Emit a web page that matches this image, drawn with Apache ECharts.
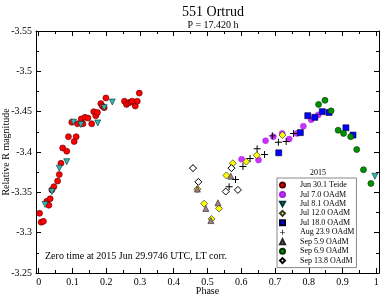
<!DOCTYPE html>
<html><head><meta charset="utf-8">
<script src="https://cdn.jsdelivr.net/npm/echarts@6/dist/echarts.min.js"></script>
<style>html,body{margin:0;padding:0;background:#fff}#c{width:382px;height:294px}</style>
</head><body><div id="c"></div>
<script>
var xMajor = [0,0.1,0.2,0.3,0.4,0.5,0.6,0.7,0.8,0.9,1];
var xMinor = [0.05,0.15,0.25,0.35,0.45,0.55,0.65,0.75,0.85,0.95];
var seriesNames = ['Jun 30.1 Teide','Jul 7.0 OAdM','Jul 8.1 OAdM','Jul 12.0 OAdM','Jul 18.0 OAdM','Aug 23.9 OAdM','Sep 5.9 OAdM','Sep 6.9 OAdM','Sep 13.8 OAdM'];
var jun30 = [[0.0025,-3.324],[0.0074,-3.313],[0.014,-3.314],[0.024,-3.339],[0.030,-3.334],[0.034,-3.342],[0.039,-3.353],[0.045,-3.357],[0.056,-3.364],[0.061,-3.372],[0.066,-3.386],[0.071,-3.405],[0.083,-3.401],[0.088,-3.419],[0.098,-3.437],[0.105,-3.413],[0.111,-3.419],[0.115,-3.435],[0.126,-3.441],[0.131,-3.435],[0.137,-3.443],[0.146,-3.442],[0.157,-3.435],[0.163,-3.450],[0.169,-3.445],[0.174,-3.449],[0.184,-3.460],[0.188,-3.457],[0.194,-3.455],[0.199,-3.467],[0.254,-3.463],[0.260,-3.459],[0.267,-3.461],[0.273,-3.462],[0.277,-3.463],[0.286,-3.457],[0.292,-3.463],[0.298,-3.473]];
var jul7 = [[0.601,-3.391],[0.651,-3.390],[0.672,-3.414],[0.695,-3.419],[0.721,-3.423],[0.742,-3.416],[0.765,-3.423],[0.784,-3.432],[0.807,-3.440],[0.828,-3.446]];
var jul8 = [[0.019,-3.335],[0.039,-3.351],[0.061,-3.380],[0.083,-3.388],[0.103,-3.437],[0.125,-3.434],[0.175,-3.436],[0.194,-3.455],[0.218,-3.462],[0.996,-3.370]];
var jul12 = [[0.470,-3.354],[0.490,-3.336],[0.512,-3.317],[0.534,-3.330],[0.556,-3.371],[0.575,-3.386],[0.615,-3.388],[0.646,-3.396],[0.722,-3.421]];
var jul18 = [[0.711,-3.399],[0.775,-3.424],[0.797,-3.445],[0.818,-3.443],[0.840,-3.450],[0.860,-3.449],[0.910,-3.430],[0.931,-3.421]];
var aug23 = [[0.457,-3.380],[0.564,-3.357],[0.583,-3.366],[0.605,-3.382],[0.626,-3.392],[0.647,-3.404],[0.669,-3.397],[0.692,-3.420],[0.710,-3.412],[0.733,-3.413],[0.755,-3.423]];
var sep5 = [[0.470,-3.354],[0.495,-3.330],[0.510,-3.315],[0.531,-3.337],[0.569,-3.370]];
var sep6 = [[0.829,-3.459],[0.848,-3.464],[0.866,-3.451],[0.887,-3.427],[0.903,-3.423],[0.924,-3.419],[0.942,-3.403],[0.962,-3.378],[0.984,-3.361]];
var sep13 = [[0.457,-3.380],[0.473,-3.363],[0.554,-3.351],[0.571,-3.380],[0.590,-3.353]];

var F = 'Liberation Serif';
var XMIN = -0.008, XMAX = 1.008;
function xAx(pos, labels, ticks, len, line) {
  return {type:'value', position:pos, min:XMIN, max:XMAX,
    axisLine:{show:line, onZero:false, lineStyle:{color:'#000', width:1}},
    axisTick:{show:true, inside:true, length:len, customValues:ticks, lineStyle:{color:'#000'}},
    axisLabel:{show:labels, customValues:ticks, margin:4, color:'#000', fontFamily:F, fontSize:10,
      formatter:function(v){return String(+v.toFixed(2));}},
    splitLine:{show:false}};
}
function yAx(pos, labels) {
  return {type:'value', position:pos, min:-3.55, max:-3.25, interval:0.05, inverse:true,
    axisLine:{show:true, onZero:false, lineStyle:{color:'#000', width:1}},
    axisTick:{show:true, inside:true, length:5, lineStyle:{color:'#000'}},
    minorTick:{show:true, splitNumber:2, length:3, lineStyle:{color:'#000'}},
    axisLabel:{show:labels, margin:4, color:'#000', fontFamily:F, fontSize:10,
      formatter:function(v){return String(+v.toFixed(2));}},
    splitLine:{show:false}};
}
var x0 = xAx('bottom', true, xMajor, 5, true);
x0.name = 'Phase'; x0.nameLocation = 'middle'; x0.nameGap = 13; x0.nameMoveOverlap = false;
x0.nameTextStyle = {fontFamily:F, fontSize:10, color:'#000'};
var y0 = yAx('left', true);
y0.name = 'Relative R magnitude'; y0.nameLocation = 'middle'; y0.nameGap = 25; y0.nameMoveOverlap = false;
y0.nameTextStyle = {fontFamily:F, fontSize:10, color:'#000'};

var plusPath = 'path://M4.3,0H5.7V4.3H10V5.7H5.7V10H4.3V5.7H0V4.3H4.3Z';
var downTri = 'path://M0,0L10,0L5,9Z';
var styles = [
  {data:jun30, symbol:'circle', size:6, color:'#ff0000', border:'#500', bw:0.6},
  {data:jul7, symbol:'circle', size:6, color:'#cc33ff', border:'#a020e0', bw:0.5},
  {data:jul8, symbol:downTri, size:6, color:'#33b5b5', border:'#033', bw:0.6},
  {data:jul12, symbol:'diamond', size:7, color:'#ffff00', border:'#333', bw:0.7},
  {data:jul18, symbol:'rect', size:6, color:'#0000ff', border:'#002', bw:0.6},
  {data:aug23, symbol:plusPath, size:7, color:'#000', border:'#000', bw:0},
  {data:sep5, symbol:'triangle', size:6, color:'#a08080', border:'#222', bw:0.6},
  {data:sep6, symbol:'circle', size:6, color:'#009000', border:'#030', bw:0.6},
  {data:sep13, symbol:'diamond', size:7, color:'#ffffff', border:'#000', bw:1}
];
var series = styles.map(function(s, i){
  return {type:'scatter', name:seriesNames[i], data:s.data, symbol:s.symbol, symbolSize:s.size,
    xAxisIndex:0, yAxisIndex:0, z: 2+i,
    itemStyle:{color:s.color, borderColor:s.border, borderWidth:s.bw, opacity:1}};
});

var chart = echarts.init(document.getElementById('c'));
chart.setOption({
  animation:false,
  backgroundColor:'#fff',
  title:[
    {text:'551 Ortrud', left:208, top:0, textAlign:'center', textStyle:{fontFamily:F, fontSize:14, fontWeight:'normal', color:'#000'}},
    {text:'P = 17.420 h', left:208, top:15, textAlign:'center', textStyle:{fontFamily:F, fontSize:10, fontWeight:'normal', color:'#000'}}
  ],
  grid:{left:36, right:3, top:31, bottom:21, containLabel:false, outerBoundsMode:'none'},
  xAxis:[x0, xAx('bottom', false, xMinor, 3, false), xAx('top', false, xMajor, 5, true), xAx('top', false, xMinor, 3, false)],
  yAxis:[y0, yAx('right', false)],
  legend:{orient:'vertical', left:277, top:178, data:seriesNames,
    itemWidth:5, itemHeight:5, itemGap:1.45, padding:[3,2,3,2],
    borderColor:'#888', borderWidth:1,
    textStyle:{fontFamily:F, fontSize:8, lineHeight:8, color:'#000', padding:[0,0,0,10]},
    selectedMode:false},
  graphic:[
    {type:'text', left:310, top:169, style:{text:'2015', font:'8px "Liberation Serif"', fill:'#000', textAlign:'center'}},
    {type:'text', left:45, top:251, style:{text:'Zero time at 2015 Jun 29.9746 UTC, LT corr.', font:'10px "Liberation Serif"', fill:'#000'}}
  ],
  series:series
});
</script></body></html>
